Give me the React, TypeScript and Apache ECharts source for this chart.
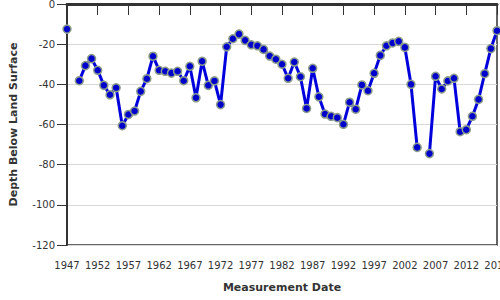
import React, { useEffect, useRef } from "react";
import * as echarts from "echarts";

const years: number[] = [
  1947, 1948, 1949, 1950, 1951, 1952, 1953, 1954, 1955, 1956, 1957, 1958, 1959, 1960,
  1961, 1962, 1963, 1964, 1965, 1966, 1967, 1968, 1969, 1970, 1971, 1972, 1973, 1974,
  1975, 1976, 1977, 1978, 1979, 1980, 1981, 1982, 1983, 1984, 1985, 1986, 1987, 1988,
  1989, 1990, 1991, 1992, 1993, 1994, 1995, 1996, 1997, 1998, 1999, 2000, 2001, 2002,
  2003, 2004, 2005, 2006, 2007, 2008, 2009, 2010, 2011, 2012, 2013, 2014, 2015, 2016, 2017,
];

const depths: (number | null)[] = [
  -12.5, null, -38.2, -30.7, -27.2, -33, -40.5, -45.2, -41.7, -60.6, -55, -53.3, -43.5, -37.2,
  -26, -33, -33.5, -34.4, -33.5, -38.2, -31, -46.7, -28.5, -40.5, -38.3, -50.1, -21.3, -17.3,
  -15, -18.1, -20.3, -20.8, -22.6, -25.9, -27.5, -30, -37, -28.9, -36.2, -52, -32, -46.2,
  -54.8, -55.9, -56.6, -59.9, -48.9, -52.4, -40.3, -43.2, -34.5, -25.6, -20.8, -19.4, -18.6, -21.6,
  -40, -71.4, null, -74.5, -36, -42.3, -38.3, -37, -63.6, -62.6, -55.9, -47.5, -34.7, -22.2, -13.3,
];

const xTicks = { min: 1947, max: 2017, interval: 5 };
const yTicks = { min: -120, max: 0, interval: 20 };

export default function App() {
  const ref = useRef<HTMLDivElement>(null);
  useEffect(() => {
    if (!ref.current) return;
    const chart = echarts.init(ref.current, null, { renderer: "svg" });
    const font = "DejaVu Sans";
    chart.setOption({
      animation: false,
      backgroundColor: "#ffffff",
      grid: {
        left: 67, right: 3, top: 4, bottom: 55,
        containLabel: false, outerBoundsMode: "none",
        show: true, borderColor: "#333", borderWidth: 1.5, backgroundColor: "transparent",
      },
      xAxis: {
        type: "value",
        min: xTicks.min,
        max: xTicks.max,
        interval: xTicks.interval,
        name: "Measurement Date",
        nameLocation: "middle",
        nameGap: 37,
        nameTextStyle: { fontFamily: font, fontWeight: "bold", fontSize: 11, color: "#333" },
        axisLine: { lineStyle: { color: "#333", width: 3 } },
        axisTick: { show: true, length: 11, lineStyle: { color: "#333", width: 1 } },
        axisLabel: { fontFamily: font, fontSize: 10, color: "#333", margin: 15, formatter: (v: number) => String(v) },
        splitLine: { show: false },
      },
      yAxis: {
        type: "value",
        min: yTicks.min,
        max: yTicks.max,
        interval: yTicks.interval,
        name: "Depth Below Land Surface",
        nameLocation: "middle",
        nameGap: 48,
        nameTextStyle: { fontFamily: font, fontWeight: "bold", fontSize: 11, color: "#333" },
        axisLine: { show: true, lineStyle: { color: "#333", width: 2 } },
        axisTick: { show: true, length: 10, lineStyle: { color: "#333", width: 1 } },
        axisLabel: { fontFamily: font, fontSize: 10, color: "#333", margin: 12 },
        splitLine: { show: true, lineStyle: { color: "#d8d8d8", width: 1 } },
      },
      series: [
        {
          type: "line",
          data: years.map((y, i) => [y, depths[i]]),
          connectNulls: false,
          showSymbol: true,
          symbol: "circle",
          symbolSize: 8,
          itemStyle: { color: "#0000cc", borderColor: "#8c9c8c", borderWidth: 1.5 },
          lineStyle: { color: "#0000dd", width: 3 },
          z: 3,
        },
      ],
    });
    return () => chart.dispose();
  }, []);
  return <div ref={ref} style={{ position: "fixed", left: 0, top: 0, width: 500, height: 300 }} />;
}
